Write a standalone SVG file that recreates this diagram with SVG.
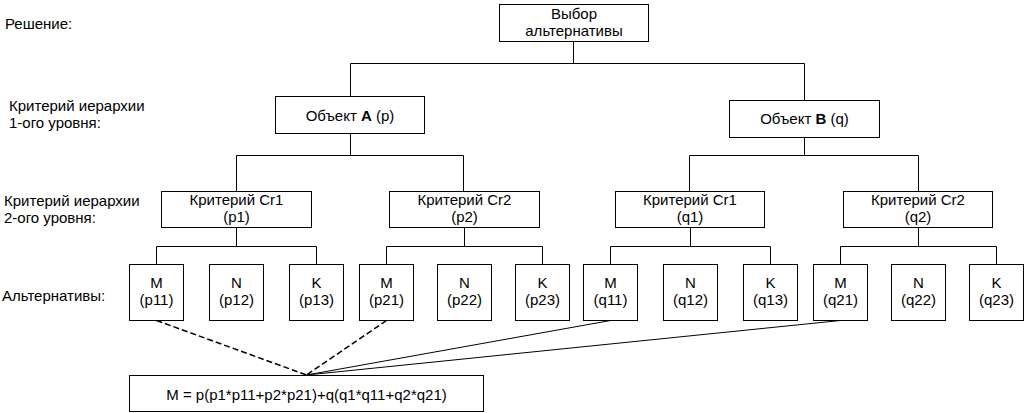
<svg xmlns="http://www.w3.org/2000/svg" width="1024" height="413" viewBox="0 0 1024 413">
<style>
text{font-family:"Liberation Sans",Arial,sans-serif;font-size:15px;fill:#000}
.c{text-anchor:middle}
.box{fill:#fff;stroke:#000;stroke-width:1}
.ln{fill:none;stroke:#000;stroke-width:1}
.dash{fill:none;stroke:#000;stroke-width:1.5;stroke-dasharray:6 3}
</style>
<rect width="1024" height="413" fill="#fff"/>
<g id="labels">
<text x="5" y="28.5">Решение:</text>
<text x="9" y="110.7">Критерий иерархии</text>
<text x="9" y="127.7">1-ого уровня:</text>
<text x="4" y="205.7">Критерий иерархии</text>
<text x="4" y="222.7">2-ого уровня:</text>
<text x="2" y="300.7">Альтернативы:</text>
</g>
<g id="connectors">
<path class="ln" d="M573.5 41.5V63.5M350.5 96.5V63.5H804.5V100.5"/>
<path class="ln" d="M350.5 133.5V155.5M236.5 191.5V155.5H463.5V191.5"/>
<path class="ln" d="M804.5 137.5V155.5M689.5 191.5V155.5H918.5V191.5"/>
<path class="ln" d="M236.5 227.5V246.5M156.5 264.5V246.5H316.5V264.5"/>
<path class="ln" d="M464.5 227.5V246.5M386.5 264.5V246.5H542.5V264.5"/>
<path class="ln" d="M690.5 227.5V246.5M610.5 264.5V246.5H770.5V264.5"/>
<path class="ln" d="M918.5 227.5V246.5M840.5 264.5V246.5H996.5V264.5"/>
<path class="dash" d="M156.5 320.5L306.5 375"/>
<path class="dash" d="M386.5 320.5L306.5 375"/>
<path class="ln" d="M610.5 320.5L306.5 375"/>
<path class="ln" d="M840.5 320.5L306.5 375"/>
</g>
<g id="root"><rect class="box" x="499.5" y="4.5" width="149" height="37"/><text class="c" x="574" y="19">Выбор</text><text class="c" x="574" y="36">альтернативы</text></g>
<g id="objA"><rect class="box" x="275.5" y="96.5" width="149" height="37"/><text class="c" x="350" y="120.5">Объект <tspan font-weight="bold">A</tspan> (p)</text></g>
<g id="objB"><rect class="box" x="729.5" y="100.5" width="150" height="37"/><text class="c" x="804.5" y="124">Объект <tspan font-weight="bold">B</tspan> (q)</text></g>
<g id="crp1"><rect class="box" x="161.5" y="191.5" width="150" height="36"/><text class="c" x="236.5" y="204.5">Критерий Cr1</text><text class="c" x="236.5" y="221.5">(p1)</text></g>
<g id="crp2"><rect class="box" x="389.5" y="191.5" width="150" height="36"/><text class="c" x="464.5" y="204.5">Критерий Cr2</text><text class="c" x="464.5" y="221.5">(p2)</text></g>
<g id="crq1"><rect class="box" x="615.5" y="191.5" width="149" height="36"/><text class="c" x="690" y="204.5">Критерий Cr1</text><text class="c" x="690" y="221.5">(q1)</text></g>
<g id="crq2"><rect class="box" x="843.5" y="191.5" width="149" height="36"/><text class="c" x="918" y="204.5">Критерий Cr2</text><text class="c" x="918" y="221.5">(q2)</text></g>
<g id="p11"><rect class="box" x="129.5" y="264.5" width="54" height="56"/><text class="c" x="156.5" y="287.5">M</text><text class="c" x="156.5" y="304.5">(p11)</text></g>
<g id="p12"><rect class="box" x="209.5" y="264.5" width="54" height="56"/><text class="c" x="236.5" y="287.5">N</text><text class="c" x="236.5" y="304.5">(p12)</text></g>
<g id="p13"><rect class="box" x="289.5" y="264.5" width="54" height="56"/><text class="c" x="316.5" y="287.5">K</text><text class="c" x="316.5" y="304.5">(p13)</text></g>
<g id="p21"><rect class="box" x="359.5" y="264.5" width="54" height="56"/><text class="c" x="386.5" y="287.5">M</text><text class="c" x="386.5" y="304.5">(p21)</text></g>
<g id="p22"><rect class="box" x="437.5" y="264.5" width="54" height="56"/><text class="c" x="464.5" y="287.5">N</text><text class="c" x="464.5" y="304.5">(p22)</text></g>
<g id="p23"><rect class="box" x="515.5" y="264.5" width="54" height="56"/><text class="c" x="542.5" y="287.5">K</text><text class="c" x="542.5" y="304.5">(p23)</text></g>
<g id="q11"><rect class="box" x="583.5" y="264.5" width="54" height="56"/><text class="c" x="610.5" y="287.5">M</text><text class="c" x="610.5" y="304.5">(q11)</text></g>
<g id="q12"><rect class="box" x="663.5" y="264.5" width="54" height="56"/><text class="c" x="690.5" y="287.5">N</text><text class="c" x="690.5" y="304.5">(q12)</text></g>
<g id="q13"><rect class="box" x="743.5" y="264.5" width="54" height="56"/><text class="c" x="770.5" y="287.5">K</text><text class="c" x="770.5" y="304.5">(q13)</text></g>
<g id="q21"><rect class="box" x="813.5" y="264.5" width="54" height="56"/><text class="c" x="840.5" y="287.5">M</text><text class="c" x="840.5" y="304.5">(q21)</text></g>
<g id="q22"><rect class="box" x="891.5" y="264.5" width="54" height="56"/><text class="c" x="918.5" y="287.5">N</text><text class="c" x="918.5" y="304.5">(q22)</text></g>
<g id="q23"><rect class="box" x="969.5" y="264.5" width="54" height="56"/><text class="c" x="996.5" y="287.5">K</text><text class="c" x="996.5" y="304.5">(q23)</text></g>
<g id="formula"><rect class="box" x="129.5" y="375.5" width="354" height="36"/><text class="c" x="306.5" y="399.5">M = p(p1*p11+p2*p21)+q(q1*q11+q2*q21)</text></g>
</svg>
